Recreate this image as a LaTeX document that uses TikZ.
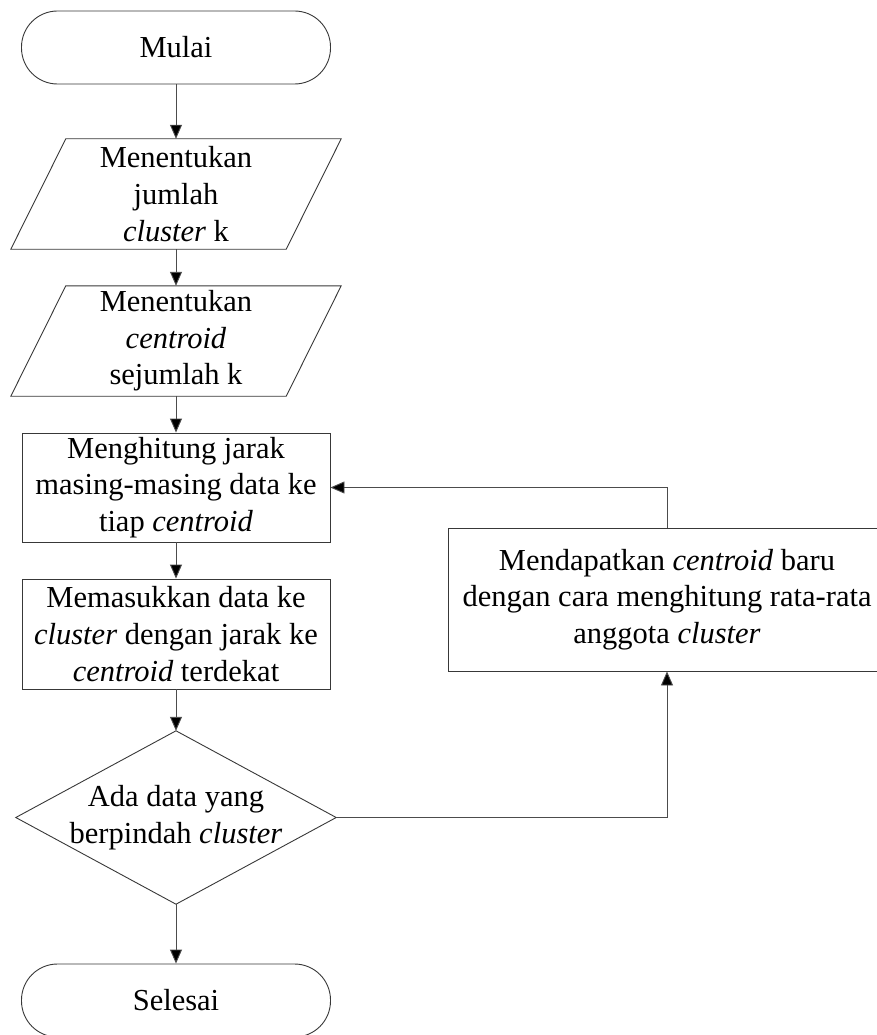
\documentclass[tikz,border=0pt]{standalone}
\usepackage{fontspec}
\setmainfont{Liberation Serif}
\usetikzlibrary{arrows.meta}
\begin{document}
\begin{tikzpicture}[x=1pt,y=-1pt,
  every node/.style={font=\fontsize{30.5}{36.6}\selectfont, align=center, inner sep=0pt},
  shapeline/.style={draw=black!78, line width=0.9pt},
  term/.style={shapeline, rectangle, rounded corners=36pt, minimum width=309pt, minimum height=73pt},
  procbox/.style={shapeline, rectangle, minimum width=308pt, minimum height=110pt},
  paraarea/.style={rectangle, minimum width=275pt, minimum height=110pt},
  conn/.style={draw=black!70, line width=0.9pt, -{Triangle[length=14pt,width=12pt,fill=black]}},
]
\useasboundingbox (0,0) rectangle (877,1035);
\clip (0,0) rectangle (877,1035);

\node[term] (start) at (176,47.5) {Mulai};

\node[paraarea] (p1) at (176,194) {Menentukan\\jumlah\\\textit{cluster} k};
\draw[shapeline] ([xshift=-27.5pt]p1.south west) -- ([xshift=27.5pt]p1.north west) -- ([xshift=27.5pt]p1.north east) -- ([xshift=-27.5pt]p1.south east) -- cycle;

\node[paraarea] (p2) at (176,341) {Menentukan\\\textit{centroid}\\sejumlah k};
\draw[shapeline] ([xshift=-27.5pt]p2.south west) -- ([xshift=27.5pt]p2.north west) -- ([xshift=27.5pt]p2.north east) -- ([xshift=-27.5pt]p2.south east) -- cycle;

\node[procbox, minimum height=109pt] (r1) at (176,487.5) {Menghitung jarak\\masing-masing data ke\\tiap \textit{centroid}};

\node[procbox] (r2) at (176,634) {Memasukkan data ke\\\textit{cluster} dengan jarak ke\\\textit{centroid} terdekat};

\node[minimum width=320pt, minimum height=173pt] (dec) at (176,817.5) {Ada data yang\\berpindah \textit{cluster}};
\draw[shapeline] (dec.north) -- (dec.east) -- (dec.south) -- (dec.west) -- cycle;

\node[term] (finish) at (176,1000.5) {Selesai};

\node[shapeline, minimum width=438pt, minimum height=143pt] (upd) at (667,599.5) {Mendapatkan \textit{centroid} baru\\dengan cara menghitung rata-rata\\anggota \textit{cluster}};

\draw[conn] (start) -- (p1);
\draw[conn] (p1) -- (p2);
\draw[conn] (p2) -- (r1);
\draw[conn] (r1) -- (r2);
\draw[conn] (r2) -- (dec);
\draw[conn] (dec) -- (finish);
\draw[conn] (dec.east) -| (upd.south);
\draw[conn] (upd.north) |- (r1.east);
\end{tikzpicture}
\end{document}
